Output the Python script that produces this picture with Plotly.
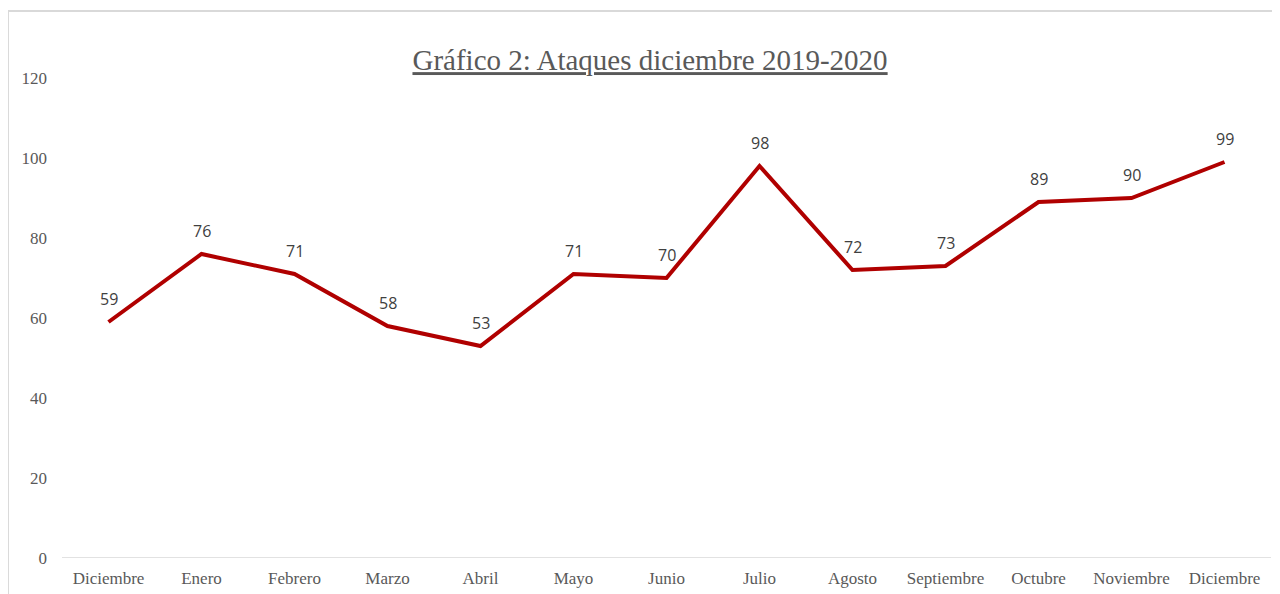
import plotly.graph_objects as go

months = ["Diciembre", "Enero", "Febrero", "Marzo", "Abril", "Mayo", "Junio",
          "Julio", "Agosto", "Septiembre", "Octubre", "Noviembre", "Diciembre"]
ataques = [59, 76, 71, 58, 53, 71, 70, 98, 72, 73, 89, 90, 99]
y_ticks = [0, 20, 40, 60, 80, 100, 120]

x_pos = list(range(len(months)))
serif = "Liberation Serif, DejaVu Serif, serif"

fig = go.Figure()
fig.add_trace(go.Scatter(
    x=x_pos, y=ataques, mode="lines",
    line=dict(color="#B00000", width=4),
    hoverinfo="skip", showlegend=False,
))

annotations = [
    dict(x=xp, y=v, xref="x", yref="y", text=str(v), showarrow=False,
         yanchor="bottom", yshift=10,
         font=dict(family="Open Sans, DejaVu Sans, sans-serif", size=16, color="#404040"))
    for xp, v in zip(x_pos, ataques)
]

fig.update_layout(
    width=1280, height=594,
    paper_bgcolor="white", plot_bgcolor="white",
    margin=dict(l=54, r=17, t=70, b=44),
    title=dict(text="<u>Gráfico 2: Ataques diciembre 2019-2020</u>",
               x=0.5016, xanchor="center", y=0.9125, yanchor="middle",
               yref="container",
               font=dict(family=serif, size=29, color="#595959")),
    xaxis=dict(range=[-0.5, len(months) - 0.5], tickmode="array", tickvals=x_pos,
               ticktext=months, showgrid=False, zeroline=False, showline=False,
               ticks="", ticklabelstandoff=8,
               tickfont=dict(family=serif, size=17, color="#595959")),
    yaxis=dict(range=[0, 120], tickmode="array", tickvals=y_ticks, showgrid=False,
               zeroline=False, showline=False, ticks="", ticklabelstandoff=14,
               tickfont=dict(family=serif, size=17, color="#595959")),
    annotations=annotations,
    shapes=[
        dict(type="rect", xref="paper", yref="paper", x0=-0.0447, x1=1.05, y0=-0.2, y1=1.1396,
             line=dict(color="#d9d9d9", width=2), fillcolor="rgba(0,0,0,0)", layer="below"),
        dict(type="line", xref="paper", yref="y", x0=0, x1=1, y0=0, y1=0,
             line=dict(color="#d9d9d9", width=1.5), layer="below"),
    ],
)

fig.write_html("out.html")
